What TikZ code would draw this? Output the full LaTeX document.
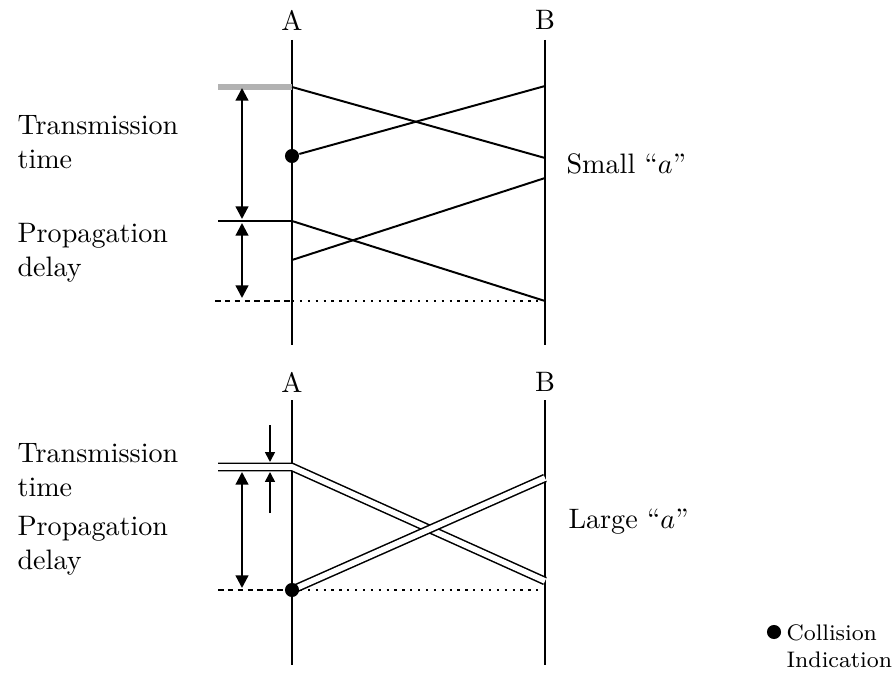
\documentclass[tikz,border=0pt]{standalone}
\usepackage{tikz}
\usetikzlibrary{positioning,arrows.meta}

\begin{document}
\begin{tikzpicture}[x=0.0125cm, y=-0.0125cm,
  lbl/.style={align=left, anchor=west, inner sep=0pt, font=\normalsize},
  stn/.style={line width=1pt},
  sig/.style={line width=0.7pt},
  dsig/.style={double, line width=0.55pt, double distance=2pt},
  dot/.style={circle, fill, inner sep=0pt, minimum size=5pt},
  dim/.style={{Triangle[length=4.5pt,width=4.5pt]}-{Triangle[length=4.5pt,width=4.5pt]}, line width=0.8pt},
  tick/.style={-{Triangle[length=3.5pt,width=3.5pt]}, line width=0.6pt}
]
\useasboundingbox (0,0) rectangle (892,676);

% ---- small a ----
\node (A1) at (292,20) {A};
\node (B1) at (545,20) {B};
\coordinate (A1top) at (292,40);  \coordinate (A1bot) at (292,345);
\coordinate (B1top) at (545,40);  \coordinate (B1bot) at (545,345);
\draw[stn] (A1top) -- (A1bot);
\draw[stn] (B1top) -- (B1bot);

\coordinate (t0) at (218,87);   \coordinate (a0) at (292,87);
\coordinate (t1) at (218,221);  \coordinate (a1) at (292,221);
\coordinate (t2) at (215,301);  \coordinate (a2) at (292,301);
\coordinate (b2) at (545,301);
\draw[gray!60, line width=2pt] (t0) -- (a0);
\draw[sig] (t1) -- (a1);
\draw[dashed, dash pattern=on 2pt off 1.5pt, line width=0.6pt] (t2) -- (a2);
\draw[dotted, line width=0.8pt] (a2) -- (b2);

\node[dot] (col1) at (292,156) {};
\draw[sig] (a0) -- (545,158);
\draw[sig] (col1) -- (545,86);
\draw[sig] (a1) -- (b2);
\draw[sig] (292,260) -- (545,178);

\draw[dim] (242,88) -- (242,219);
\draw[dim] (242,223) -- (242,298);

\node[lbl] (tx1) at (17,142) {Transmission\\time};
\node[lbl] (pd1) at (17,253) {Propagation\\delay};
\node[lbl] (small) at (566,164) {Small ``$a$''};

% ---- large a ----
\node (A2) at (292,382) {A};
\node (B2) at (545,382) {B};
\coordinate (A2top) at (292,400); \coordinate (A2bot) at (292,665);
\coordinate (B2top) at (545,400); \coordinate (B2bot) at (545,665);
\draw[stn] (A2top) -- (A2bot);
\draw[stn] (B2top) -- (B2bot);

\coordinate (u0) at (218,467);  \coordinate (c0) at (292,467);
\coordinate (u1) at (218,590);  \coordinate (c1) at (292,590);
\coordinate (d1) at (545,590);
\draw[dsig] (u0) -- (c0) -- (545,581);
\draw[dashed, dash pattern=on 2pt off 1.5pt, line width=0.6pt] (u1) -- (c1);
\draw[dotted, line width=0.8pt] (c1) -- (d1);
\draw[dsig] (c1) -- (545,478);
\node[dot] (col2) at (c1) {};

\draw[tick] (270,425) -- (270,462);
\draw[tick] (270,513) -- (270,472);
\draw[dim] (242,472) -- (242,588);

\node[lbl] (tx2) at (17,470) {Transmission\\time};
\node[lbl] (pd2) at (17,546) {Propagation\\delay};
\node[lbl] (large) at (568,522) {Large ``$a$''};

% ---- key ----
\node[dot] (key) at (774,632) {};
\node[lbl, font=\footnotesize] (keytxt) at (786,646) {Collision\\Indication};
\end{tikzpicture}
\end{document}
